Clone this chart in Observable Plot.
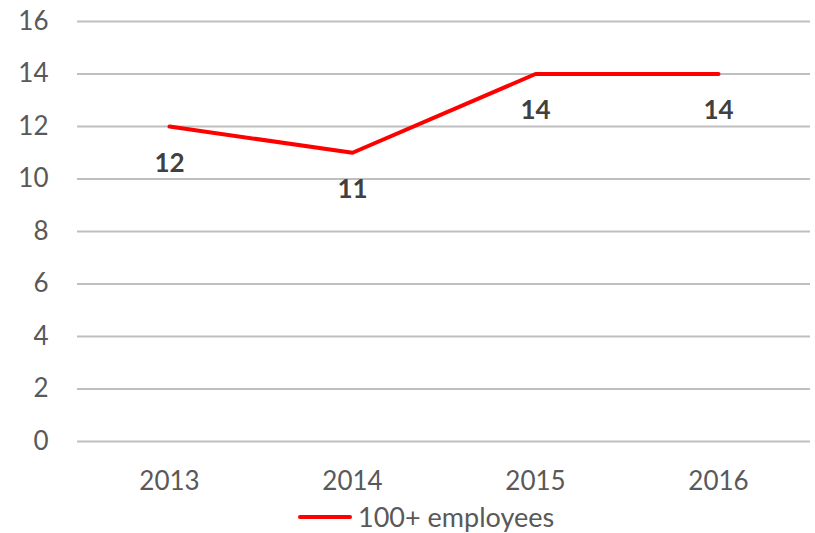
<!DOCTYPE html>
<html>
<head>
<meta charset="utf-8">
<script src="https://cdn.jsdelivr.net/npm/d3@7"></script>
<script src="https://cdn.jsdelivr.net/npm/@observablehq/plot@0.6"></script>
<style>
  body { margin: 0; background: #fff; font-family: Lato, sans-serif; }
  #legend { display: flex; align-items: center; justify-content: flex-start; padding-left: 298px; height: 33px; font-size: 27px; color: #595959; }
  #legend .sw { width: 54px; height: 4px; background: #ff0000; border-radius: 2px; margin-right: 6px; }
</style>
</head>
<body>
<div id="chart"></div>
<div id="legend"><span class="sw"></span><span>100+ employees</span></div>
<script>
const years = ["2013", "2014", "2015", "2016"];
const values = [12, 11, 14, 14];
const yTicks = [0, 2, 4, 6, 8, 10, 12, 14, 16];
const seriesName = "100+ employees";

const data = years.map((y, i) => ({year: y, value: values[i]}));

const chart = Plot.plot({
  width: 815,
  height: 500,
  marginLeft: 77,
  marginRight: 5,
  marginTop: 21,
  marginBottom: 59,
  style: {fontFamily: "Lato, sans-serif", fontSize: "26px", color: "#595959", background: "#fff"},
  x: {type: "point", domain: years, padding: 0.5, label: null},
  y: {domain: [0, 16], ticks: yTicks, label: null},
  marks: [
    Plot.gridY(yTicks, {stroke: "#bfbfbf", strokeOpacity: 1, strokeWidth: 2}),
    Plot.axisY(yTicks, {tickSize: 0, tickPadding: 29, fill: "#595959", fontSize: 26, label: null}),
    Plot.axisX(years, {tickSize: 0, tickPadding: 30, fill: "#595959", fontSize: 26, label: null}),
    Plot.line(data, {x: "year", y: "value", stroke: "#ff0000", strokeWidth: 4, strokeLinecap: "round", strokeLinejoin: "round"}),
    Plot.text(data, {x: "year", y: "value", text: d => String(d.value), dy: 37, fontWeight: "bold", fill: "#404040", fontSize: 26})
  ]
});
document.getElementById("chart").appendChild(chart);
</script>
</body>
</html>
